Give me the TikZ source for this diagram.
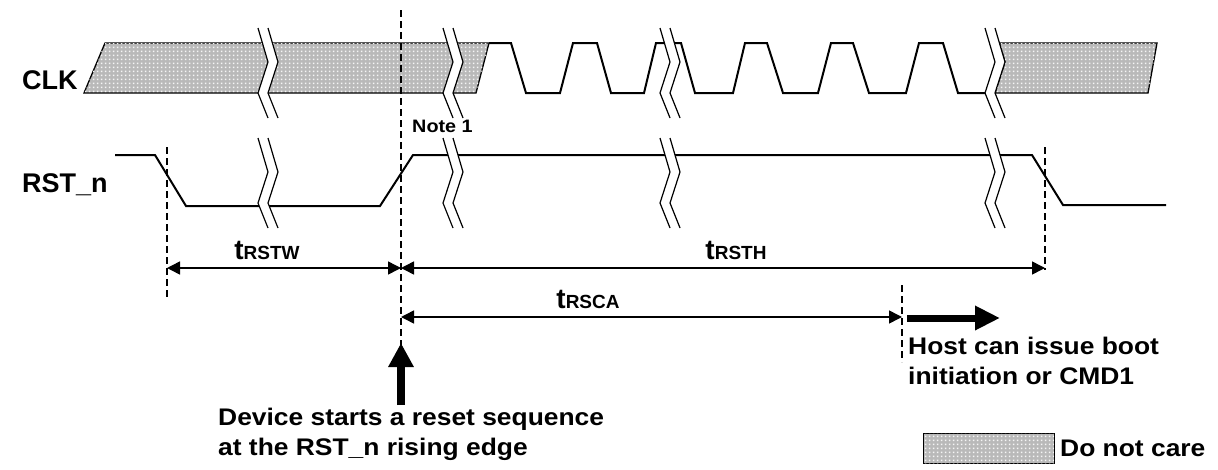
\documentclass[tikz,border=0pt]{standalone}
\usepackage{fontspec}
\setmainfont{Liberation Sans}[FakeStretch=1.1]
\newfontfamily\sigfont{Liberation Sans}
\usetikzlibrary{arrows.meta,patterns}
\pgfdeclarepatternformonly{wdots}{\pgfpointorigin}{\pgfpoint{4pt}{4pt}}{\pgfpoint{4pt}{4pt}}{\pgfpathrectangle{\pgfpoint{1pt}{1pt}}{\pgfpoint{2pt}{2pt}}\pgfusepath{fill}}
\tikzset{
  wave/.style={line width=2pt, line join=miter},
  dnc/.style={draw=black, line width=1.3pt, fill=gray!55, postaction={pattern=wdots, pattern color=white!92!gray}},
  guide/.style={line width=1.5pt, dash pattern=on 7pt off 4pt},
  dim/.style={line width=1.5pt, {Triangle[length=13pt,width=13pt]}-{Triangle[length=13pt,width=13pt]}},
  bigarrow/.style={line width=8pt, -{Triangle[length=24pt,width=24pt]}},
  txt/.style={inner sep=0pt, font=\bfseries\fontsize{24}{30}\selectfont, align=left},
  sig/.style={inner sep=0pt, font=\sigfont\bfseries\fontsize{27}{28}\selectfont},
  tlab/.style={inner sep=0pt, anchor=base, font=\sigfont\bfseries\fontsize{28}{28}\selectfont},
  brk/.pic={
    \fill[white] (0,0)--(10,34)--(0,65)--(10,90)--(20,90)--(10,65)--(20,34)--(10,0)--cycle;
    \draw[line width=1.2pt] (0,0)--(10,34)--(0,65)--(10,90);
    \draw[line width=1.2pt] (10,0)--(20,34)--(10,65)--(20,90);
  }
}
\newcommand{\sbs}[1]{{\fontsize{19}{20}\selectfont #1}}
\begin{document}
\begin{tikzpicture}[x=1pt,y=-1pt]
\useasboundingbox (0,0) rectangle (1218,469);
% CLK don't care regions
\path[dnc] (84,93)--(105,43)--(489,43)--(476,93)--cycle;
\path[dnc] (999.4,43)--(1157,43)--(1148,93)--(995,93)--(1005,62)--cycle;
% CLK toggling
\draw[wave] (489,43)--(511,43)--(526,93)--(560,93)--(573,43)--(597,43)--(611,93)--(644,93)--(656,43)--(681,43)--(695,93)--(733,93)--(745,43)--(767,43)--(783,93)--(818,93)--(831,43)--(853,43)--(869,93)--(906,93)--(919,43)--(943,43)--(958,93)--(985,93);
% RST_n
\draw[wave] (115,155)--(155,155)--(186,206)--(380,206)--(413,155)--(1032,155)--(1063,205)--(1166,205);
% breaks
\foreach \bx in {258,443,660,985}{
  \pic at (\bx,28) {brk};
  \pic at (\bx,138) {brk};
}
% guides
\coordinate (g1t) at (167,147); \coordinate (g1b) at (167,297);
\coordinate (g2t) at (401,10);  \coordinate (g2b) at (401,345);
\coordinate (g3t) at (1045,147); \coordinate (g3b) at (1045,270);
\coordinate (g4t) at (902,285); \coordinate (g4b) at (902,362);
\draw[guide] (g1t)--(g1b);
\draw[guide] (g2t)--(g2b);
\draw[guide] (g3t)--(g3b);
\draw[guide] (g4t)--(g4b);
% dimension arrows
\coordinate (a1) at (167,268); \coordinate (a2) at (401,268); \coordinate (a3) at (1045,268);
\coordinate (b1) at (401,317); \coordinate (b2) at (902,317);
\draw[dim] (a1)--(a2);
\draw[dim] (a2)--(a3);
\draw[dim] (b1)--(b2);
\node[tlab] (lw) at (267,259) {t\sbs{RSTW}};
\node[tlab] (lh) at (736,259) {t\sbs{RSTH}};
\node[tlab] (lc) at (588,308) {t\sbs{RSCA}};
% big arrows
\coordinate (h1) at (907,318); \coordinate (h2) at (1000,318);
\draw[line width=7pt, -{Triangle[length=25pt,width=23pt]}] (h1)--(h2);
\coordinate (u1) at (401,405); \coordinate (u2) at (401,343);
\draw[bigarrow] (u1)--(u2);
% labels
\node[sig, anchor=west] (clk) at (22,80) {CLK};
\node[sig, anchor=west] (rst) at (22,185) {RST\_n};
\node[inner sep=0pt, anchor=west, font=\bfseries\fontsize{18}{20}\selectfont] (note) at (412,126) {Note 1};
\node[txt, anchor=north west] (host) at (908,337) {Host can issue boot\\initiation or CMD1};
\node[txt, anchor=north west] (dev) at (218,408) {Device starts a reset sequence\\at the RST\_n rising edge};
% legend
\path[dnc, line width=1pt] (923,433) rectangle (1054,463);
\node[txt, anchor=west] (dnclab) at (1060,448) {Do not care};
\end{tikzpicture}
\end{document}
